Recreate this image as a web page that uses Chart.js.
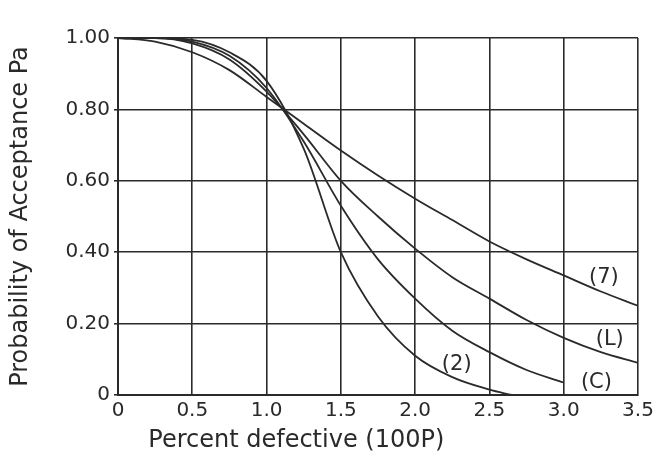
<!DOCTYPE html>
<html lang="en">
	<head>
		<meta charset="UTF-8" />
		<title>OC curves</title>
		<script src="https://cdn.jsdelivr.net/npm/chart.js@4/dist/chart.umd.min.js"></script>
		<style>
			html, body { margin: 0; padding: 0; background: #fff; }
			.chart-container { position: relative; width: 658px; height: 467px; }
		</style>
	</head>
	<body>
		<div class="chart-container">
			<canvas id="oc-chart"></canvas>
		</div>
		<script>
			// Percent defective values (x) and Pa values
			const xCurve7 = [0, 0.25, 0.5, 0.75, 1.0, 1.25, 1.5, 1.75, 2.0, 2.25, 2.5, 2.75, 3.0, 3.25, 3.5]
			const paCurve7 = [1.0, 0.99, 0.96, 0.91, 0.835, 0.76, 0.685, 0.615, 0.55, 0.49, 0.43, 0.38, 0.335, 0.29, 0.25]

			const xCurveL = [0, 0.25, 0.5, 0.75, 1.0, 1.25, 1.5, 1.75, 2.0, 2.25, 2.5, 2.75, 3.0, 3.25, 3.5]
			const paCurveL = [1.0, 1.0, 0.985, 0.94, 0.85, 0.73, 0.6, 0.5, 0.41, 0.33, 0.27, 0.21, 0.16, 0.12, 0.09]

			const xCurveC = [0, 0.25, 0.5, 0.75, 1.0, 1.25, 1.5, 1.75, 2.0, 2.25, 2.5, 2.75, 3.0]
			const paCurveC = [1.0, 1.0, 0.99, 0.95, 0.86, 0.71, 0.53, 0.38, 0.27, 0.18, 0.12, 0.07, 0.035]

			const xCurve2 = [0, 0.25, 0.5, 0.75, 1.0, 1.25, 1.5, 1.75, 2.0, 2.25, 2.5, 2.65]
			const paCurve2 = [1.0, 1.0, 0.995, 0.96, 0.88, 0.69, 0.4, 0.22, 0.11, 0.05, 0.015, 0]

			const xTickLabels = ['0', '0.5', '1.0', '1.5', '2.0', '2.5', '3.0', '3.5']
			const yTickLabels = ['0', '0.20', '0.40', '0.60', '0.80', '1.00']

			// curve tags drawn next to the line ends
			const curveTags = ['(7)', '(L)', '(C)', '(2)']
			const tagX = [3.27, 3.31, 3.22, 2.28]
			const tagY = [0.33, 0.155, 0.035, 0.085]

			const xTitle = 'Percent defective (100P)'

			const ink = '#2a2a2a'
			const fontFamily = "'DejaVu Sans', sans-serif"

			function toPoints(xs, ys) {
				return xs.map((x, i) => ({ x: x, y: ys[i] }))
			}

			function curve(xs, ys) {
				return {
					data: toPoints(xs, ys),
					borderColor: ink,
					borderWidth: 1.8,
					pointRadius: 0,
					fill: false,
					cubicInterpolationMode: 'monotone',
				}
			}

			// tags on the curves + the x title (sits left of centre in the original)
			const textPlugin = {
				id: 'extraText',
				afterDraw(chart) {
					const ctx = chart.ctx
					const xs = chart.scales.x
					const ys = chart.scales.y
					ctx.save()
					ctx.fillStyle = ink
					ctx.textAlign = 'center'
					ctx.textBaseline = 'middle'
					ctx.font = '21px ' + fontFamily
					curveTags.forEach((t, i) => {
						ctx.fillText(t, xs.getPixelForValue(tagX[i]), ys.getPixelForValue(tagY[i]))
					})
					ctx.font = '24px ' + fontFamily
					ctx.fillText(xTitle, xs.getPixelForValue(1.2), xs.bottom - 18)
					ctx.restore()
				},
			}

			const chart = new Chart(document.getElementById('oc-chart').getContext('2d'), {
				type: 'line',
				data: {
					datasets: [
						curve(xCurve7, paCurve7),
						curve(xCurveL, paCurveL),
						curve(xCurveC, paCurveC),
						curve(xCurve2, paCurve2),
					],
				},
				options: {
					responsive: true,
					maintainAspectRatio: false,
					animation: false,
					layout: { padding: { top: 38, right: 20, left: 0, bottom: 8 } },
					plugins: {
						legend: { display: false },
						tooltip: { enabled: false },
					},
					scales: {
						x: {
							type: 'linear',
							min: 0,
							max: 3.5,
							afterFit: scale => { scale.height = 64 },
							afterBuildTicks: scale => {
								scale.ticks = xTickLabels.map((l, i) => ({ value: i * 0.5 }))
							},
							ticks: {
								color: ink,
								font: { family: fontFamily, size: 20 },
								padding: 4,
								maxRotation: 0,
								autoSkip: false,
								callback: (v, i) => xTickLabels[i],
							},
							grid: { color: ink, lineWidth: 1.6, drawTicks: false },
							border: { color: ink, width: 2 },
						},
						y: {
							type: 'linear',
							min: 0,
							max: 1,
							afterFit: scale => { scale.width = 118 },
							afterBuildTicks: scale => {
								scale.ticks = yTickLabels.map((l, i) => ({ value: i * 0.2 }))
							},
							ticks: {
								color: ink,
								font: { family: fontFamily, size: 20 },
								padding: 4,
								autoSkip: false,
								callback: (v, i) => yTickLabels[i],
							},
							grid: { color: ink, lineWidth: 1.6, drawTicks: true, tickLength: 4 },
							border: { color: ink, width: 2 },
							title: {
								display: true,
								text: 'Probability of Acceptance Pa',
								color: ink,
								font: { family: fontFamily, size: 24 },
								padding: { top: 6, bottom: 0 },
							},
						},
					},
				},
				plugins: [textPlugin],
			})
		</script>
	</body>
</html>
